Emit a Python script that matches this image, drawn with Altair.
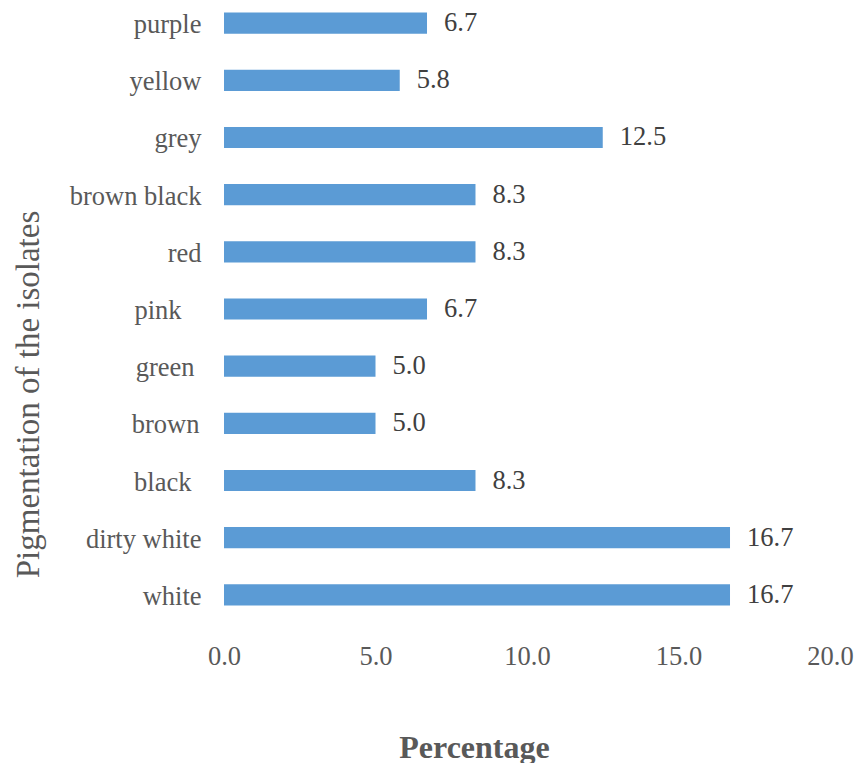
import altair as alt
import pandas as pd

categories = ["purple", "yellow", "grey", "brown black", "red", "pink",
              "green", "brown", "black", "dirty white", "white"]
values = [6.7, 5.8, 12.5, 8.3, 8.3, 6.7, 5.0, 5.0, 8.3, 16.7, 16.7]
x_ticks = [0, 5, 10, 15, 20]

df = pd.DataFrame({"cat": categories, "val": values})

FONT = "Liberation Serif"
GRAY = "#595959"

# some labels in the original carry trailing blanks -> extra label padding
extra_pad = {"pink": 20, "green": 7, "brown": 2, "black": 10}
BASE_PAD = 23
label_padding = {
    "condition": [
        {"test": f"datum.value == '{c}'", "value": BASE_PAD + p}
        for c, p in extra_pad.items()
    ],
    "value": BASE_PAD,
}

base = alt.Chart(df)

y_enc = alt.Y(
    "cat:N",
    sort=categories,
    scale=alt.Scale(paddingInner=0.63, paddingOuter=0.22),
    axis=alt.Axis(
        title="Pigmentation of the isolates",
        labelFont=FONT, labelFontSize=26.5, labelColor=GRAY,
        labelPadding=label_padding, labelOffset=2,
        ticks=False, domain=False, grid=False,
        titleFont=FONT, titleFontSize=33, titleFontWeight="normal", titleColor=GRAY,
        titleX=-196, titleY=394, titleAngle=270, titleBaseline="middle", titleAlign="center",
    ),
)

bars = base.mark_bar(color="#5B9BD5").encode(
    x=alt.X(
        "val:Q",
        scale=alt.Scale(domain=[0, 20], nice=False, zero=True),
        axis=alt.Axis(
            title="Percentage",
            values=x_ticks, format=".1f", labelFlush=False,
            labelFont=FONT, labelFontSize=26.5, labelColor=GRAY,
            labelPadding=25, ticks=False, domain=False, grid=False,
            titleFont=FONT, titleFontSize=32, titleFontWeight="bold", titleColor=GRAY,
            titleX=250, titleY=129, titleBaseline="middle", titleAlign="center",
        ),
    ),
    y=y_enc,
)

text = base.mark_text(
    align="left", baseline="middle", dx=17, font=FONT, fontSize=26.5, color="#404040"
).encode(
    x="val:Q",
    y=alt.Y("cat:N", sort=categories),
    text=alt.Text("val:Q", format=".1f"),
)

chart = (
    (bars + text)
    .properties(
        width=606, height=618,
        padding={"left": 224, "top": 0, "right": 27, "bottom": 145},
        autosize=alt.AutoSizeParams(type="none"),
        background="white",
    )
    .configure_view(stroke=None)
)

chart.save("out.html", embed_options={"renderer": "svg", "actions": False})
